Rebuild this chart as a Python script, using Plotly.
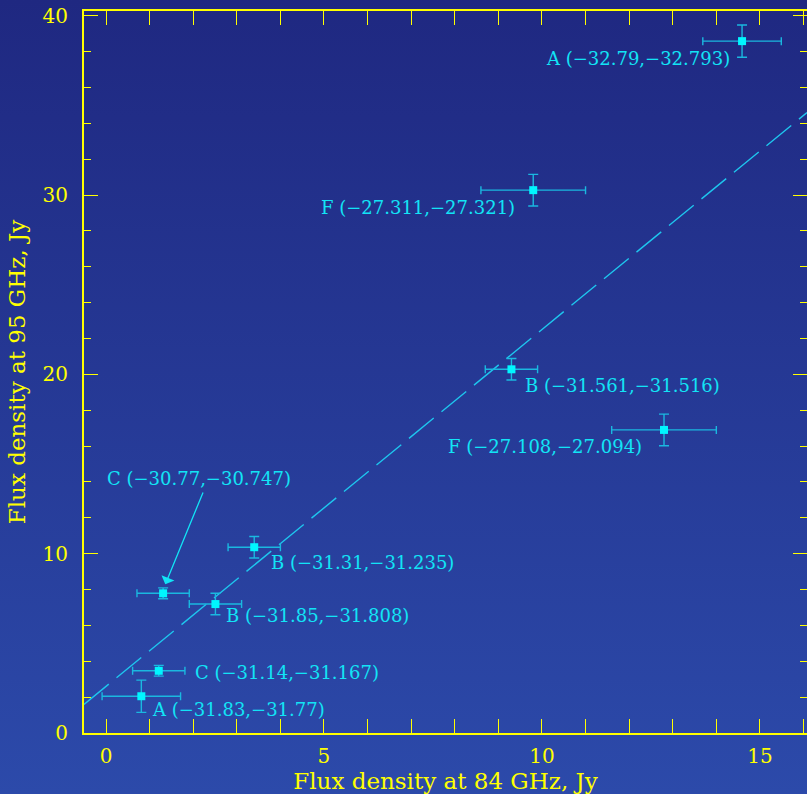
import base64
import plotly.graph_objects as go

# Flux density measurements (Jy) at 84 GHz (x) and 95 GHz (y)
x_84 = [14.59, 9.80, 9.30, 12.80, 3.40, 1.31, 2.51, 1.21, 0.81]
y_95 = [38.58, 30.27, 20.28, 16.90, 10.36, 7.79, 7.19, 3.47, 2.05]
x_err = [0.9, 1.2, 0.6, 1.2, 0.6, 0.6, 0.6, 0.6, 0.9]
y_err = [0.9, 0.88, 0.6, 0.88, 0.6, 0.3, 0.6, 0.3, 0.9]
labels = [
    "A (\u221232.79,\u221232.793)",
    "F (\u221227.311,\u221227.321)",
    "B (\u221231.561,\u221231.516)",
    "F (\u221227.108,\u221227.094)",
    "B (\u221231.31,\u221231.235)",
    "C (\u221230.77,\u221230.747)",
    "B (\u221231.85,\u221231.808)",
    "C (\u221231.14,\u221231.167)",
    "A (\u221231.83,\u221231.77)",
]

# Linear relation drawn as a dashed line
fit_slope = 1.99
fit_intercept = 2.6

X_RANGE = [-0.505, 16.08]
Y_RANGE = [0.0, 40.26]

YELLOW = "#ffff00"
CYAN = "#12e4f6"
FONT = "DejaVu Serif"

W, H = 807, 794
ML, MR, MT, MB = 84, 0, 11, 61

fig = go.Figure()

# Vertical background gradient over the whole page
svg = (
    f'<svg xmlns="http://www.w3.org/2000/svg" width="{W}" height="{H}" preserveAspectRatio="none">'
    '<defs><linearGradient id="g" x1="0" y1="0" x2="0" y2="1">'
    '<stop offset="0" stop-color="#1f2881"/><stop offset="1" stop-color="#2c4aaa"/>'
    '</linearGradient></defs>'
    f'<rect width="{W}" height="{H}" fill="url(#g)"/></svg>'
)
src = "data:image/svg+xml;base64," + base64.b64encode(svg.encode()).decode()
pw = W - ML - MR
ph = H - MT - MB
fig.add_layout_image(
    source=src, xref="paper", yref="paper",
    x=-ML / pw, y=1 + MT / ph, sizex=W / pw, sizey=H / ph,
    xanchor="left", yanchor="top", sizing="stretch", layer="below",
)

# Dashed relation line across the full x range
fig.add_trace(go.Scatter(
    x=X_RANGE,
    y=[fit_slope * v + fit_intercept for v in X_RANGE],
    mode="lines",
    line=dict(color="#1ec6ee", width=1.4, dash="32px,10px"),
    hoverinfo="skip", showlegend=False,
))

# Data points with error bars
fig.add_trace(go.Scatter(
    x=x_84, y=y_95, mode="markers",
    marker=dict(symbol="square", size=8, color="#00f6ff", line=dict(width=0)),
    error_x=dict(type="data", array=x_err, color="#1ab8e0", thickness=1.4, width=4),
    error_y=dict(type="data", array=y_err, color="#1ab8e0", thickness=1.4, width=5),
    hoverinfo="skip", showlegend=False,
))

# Label positions (data coordinates) and anchors for each point's annotation
label_x = [14.35, 9.42, 9.57, 12.34, 3.74, -0.02, 2.70, 2.0, 1.0]
label_y = [37.6, 29.3, 19.35, 16.0, 9.5, 14.2, 6.55, 3.4, 1.3]
label_anchor = ["right", "right", "left", "right", "left", "left", "left", "left", "left"]

LABEL_FONT = dict(family=FONT, size=18, color=CYAN)

for i, txt in enumerate(labels):
    if i == 5:
        continue
    fig.add_annotation(
        x=label_x[i], y=label_y[i], text=txt, showarrow=False,
        xanchor=label_anchor[i], yanchor="middle", font=LABEL_FONT,
    )

# Point C (-30.77) is labelled with an arrow
fig.add_annotation(
    x=label_x[5], y=label_y[5], text=labels[5], showarrow=False,
    xanchor="left", yanchor="middle", font=LABEL_FONT,
)
fig.add_annotation(
    x=x_84[5] + 0.05, y=y_95[5] + 0.5, ax=2.24, ay=13.5,
    xref="x", yref="y", axref="x", ayref="y",
    text="", showarrow=True, arrowhead=1, arrowsize=1.8, arrowwidth=1.3,
    arrowcolor=CYAN,
)

axis_common = dict(
    showgrid=False, zeroline=False, showline=True, linecolor=YELLOW, linewidth=2,
    ticks="inside", tickcolor=YELLOW, tickwidth=1.2, ticklen=14,
    tickfont=dict(family=FONT, size=20, color=YELLOW),
)
TITLE_FONT = dict(family=FONT, size=23, color=YELLOW)

fig.update_xaxes(
    **axis_common, range=X_RANGE, tickvals=[0, 5, 10, 15], mirror="allticks",
    ticklabelstandoff=4,
    minor=dict(dtick=1, tick0=0, ticks="inside", ticklen=7, tickcolor=YELLOW, tickwidth=1.2),
    title=dict(text="Flux density at 84 GHz, Jy", font=TITLE_FONT, standoff=4),
)
fig.update_yaxes(
    **axis_common, range=Y_RANGE, tickvals=[0, 10, 20, 30, 40], mirror=False,
    ticklabelstandoff=10,
    minor=dict(dtick=2, tick0=0, ticks="inside", ticklen=7, tickcolor=YELLOW, tickwidth=1.2),
    title=dict(text="Flux density at 95 GHz, Jy", font=TITLE_FONT, standoff=10),
)

# Right-hand tick marks without a visible axis line
fig.update_layout(
    yaxis2=dict(
        overlaying="y", side="right", range=Y_RANGE, showline=False, showgrid=False,
        zeroline=False, showticklabels=False, ticks="inside", ticklen=14,
        tickcolor=YELLOW, tickwidth=1.2, tickvals=[0, 10, 20, 30, 40],
        minor=dict(dtick=2, tick0=0, ticks="inside", ticklen=7, tickcolor=YELLOW, tickwidth=1.2),
    )
)
fig.add_trace(go.Scatter(x=[None], y=[None], yaxis="y2", showlegend=False, hoverinfo="skip"))

fig.update_layout(
    width=W, height=H,
    margin=dict(l=ML, r=MR, t=MT, b=MB, pad=0),
    paper_bgcolor="rgba(0,0,0,0)", plot_bgcolor="rgba(0,0,0,0)",
    showlegend=False, hovermode=False,
)

fig.write_html("out.html")
